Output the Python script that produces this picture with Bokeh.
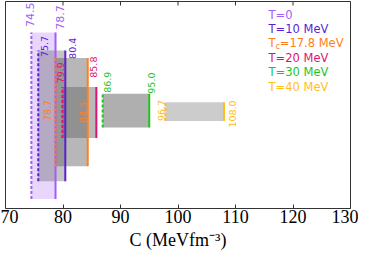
import math
from bokeh.plotting import figure
from bokeh.models import Range1d, FixedTicker
from bokeh.core.properties import value
from bokeh.embed import file_html
from bokeh.resources import INLINE

# ---------------- data ----------------
series = ["T=0", "T=10 MeV", "Tc=17.8 MeV", "T=20 MeV", "T=30 MeV", "T=40 MeV"]
c_min = [74.5, 75.7, 78.7, 79.9, 86.9, 97.8]
c_max = [78.7, 80.4, 84.3, 85.8, 95.0, 108.0]
min_labels = ["74.5", "75.7", "78.7", "79.9", "86.9", "96.7"]
max_labels = ["78.7", "80.4", "84.3", "85.8", "95.0", "108.0"]
band_bottom = [10, 29, 45, 75, 86, 93]
band_top = [187, 168, 160, 129, 122, 113]
x_ticks = [70, 80, 90, 100, 110, 120, 130]

# ---------------- layout / style ----------------
colors = ["#a25cf7", "#5a1fd1", "#ff7f1a", "#dd1470", "#1fc41f", "#ffbe1e"]
fill_colors = ["#a25cf7", "#606060", "#606060", "#606060", "#606060", "#606060"]
fill_alphas = [0.25, 0.37, 0.45, 0.43, 0.5, 0.32]
sx = 0.957
min_label_dx = [-1, 6.8, -8, -2, 4.6, -4.3]
max_label_dx = [4.6, 8, -5.5, -2.5, 2.3, 9.3]
min_label_y = [193, 161, 93, 133, 123, 93]
max_label_y = [190, 159, 91, 139, 122, 86]
label_sizes = ["11px", "9.5px", "9.5px", "9.5px", "9.5px", "9.5px"]
legend_x = 115.75
legend_y0 = 206
legend_dy = 15.3
y_lo, y_hi = 0, 220
frame_h_px = 207
tick_len_px = 4

p = figure(width=358, height=254, output_backend="svg", toolbar_location=None,
           x_range=Range1d(70, 130), y_range=Range1d(y_lo, y_hi),
           min_border_left=5, min_border_right=8, min_border_top=1, min_border_bottom=46)
p.background_fill_color = "white"
p.border_fill_color = "white"
p.outline_line_color = "#333333"
p.outline_line_width = 1
p.xgrid.visible = False
p.ygrid.visible = False
p.yaxis.visible = False

xa = p.xaxis[0]
xa.ticker = FixedTicker(ticks=x_ticks)
xa.major_tick_in = tick_len_px
xa.major_tick_out = 0
xa.minor_tick_in = 0
xa.minor_tick_out = 0
xa.axis_line_color = None
xa.major_tick_line_color = "#333333"
xa.major_label_text_font = "Liberation Serif"
xa.major_label_text_font_size = "18px"
xa.major_label_text_color = "black"
xa.major_label_standoff = 1
xa.axis_label = "C (MeVfm\u207b\u00b3)"
xa.axis_label_text_font = "Liberation Serif"
xa.axis_label_text_font_size = "18px"
xa.axis_label_text_font_style = "normal"
xa.axis_label_text_color = "black"
xa.axis_label_standoff = 4

# mirrored ticks on the top edge of the frame
tick_len = tick_len_px * (y_hi - y_lo) / frame_h_px
p.segment(x0=x_ticks, y0=[y_hi] * len(x_ticks), x1=x_ticks,
          y1=[y_hi - tick_len] * len(x_ticks), line_color="#333333", line_width=1)

# bands
for i in range(len(series)):
    p.quad(left=[c_min[i]], right=[c_max[i]], bottom=[band_bottom[i]], top=[band_top[i]],
           fill_color=fill_colors[i], fill_alpha=fill_alphas[i], line_color=None)

# boundary lines
for i in range(len(series)):
    p.segment(x0=[c_min[i]], y0=[band_bottom[i]], x1=[c_min[i]], y1=[band_top[i]],
              line_color=colors[i], line_width=2, line_dash="3 2")
    p.segment(x0=[c_max[i]], y0=[band_bottom[i]], x1=[c_max[i]], y1=[band_top[i]],
              line_color=colors[i], line_width=2)

# value labels
for i in range(len(series)):
    p.text(x=[c_min[i], c_max[i]], y=[min_label_y[i], max_label_y[i]],
           text=[min_labels[i], max_labels[i]],
           x_offset=[min_label_dx[i] * sx, max_label_dx[i] * sx],
           angle=math.pi / 2, text_align="left", text_baseline="middle",
           text_color=colors[i], text_font=value("DejaVu Sans"),
           text_font_size=label_sizes[i])

# legend texts
leg_font = value("DejaVu Sans")
for i, name in enumerate(series):
    y = legend_y0 - legend_dy * i
    if name.startswith("Tc"):
        p.text(x=[legend_x], y=[y], text=["T"], text_color=colors[i], text_font=leg_font,
               text_font_size="11.5px", text_baseline="alphabetic")
        p.text(x=[legend_x], y=[y], text=["c"], x_offset=7, y_offset=3, text_color=colors[i],
               text_font=leg_font, text_font_size="8px", text_baseline="alphabetic")
        p.text(x=[legend_x], y=[y], text=[name[2:]], x_offset=11.2, text_color=colors[i],
               text_font=leg_font, text_font_size="11.5px", text_baseline="alphabetic")
    else:
        p.text(x=[legend_x], y=[y], text=[name], text_color=colors[i], text_font=leg_font,
               text_font_size="11.5px", text_baseline="alphabetic")

open("out.html", "w").write(file_html(p, INLINE))
